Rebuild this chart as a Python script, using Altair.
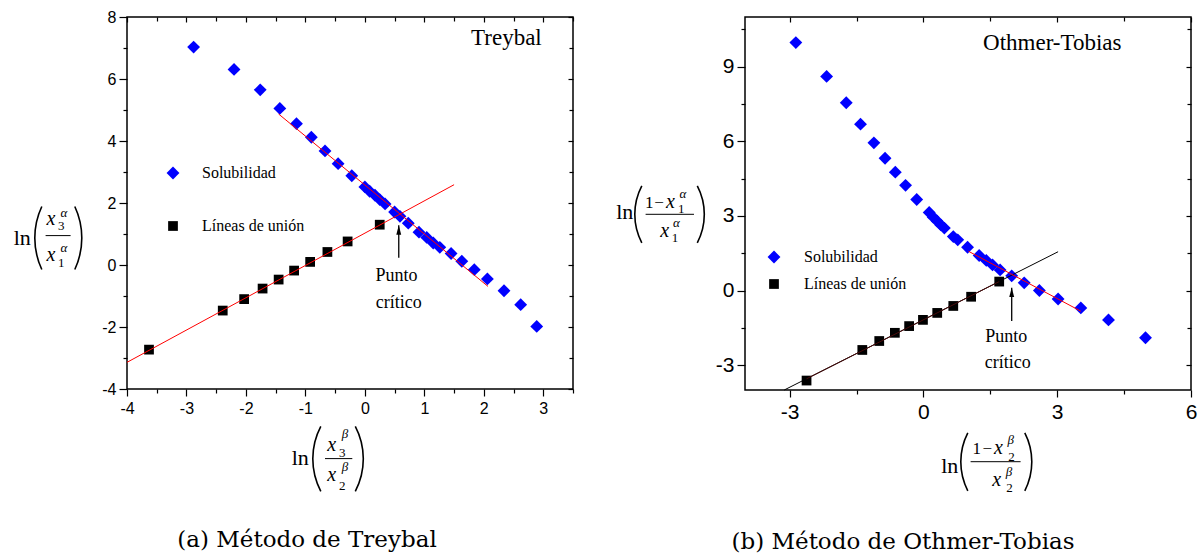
import math
import altair as alt
import pandas as pd

# ---------------- data ----------------
series_names = ["Solubilidad", "Líneas de unión"]
series_colors = ["#0000ff", "#000000"]
series_shapes = ["diamond", "square"]

# (a) Treybal
tr_sol_x = [-2.88, -2.20, -1.76, -1.43, -1.15, -0.90, -0.67, -0.45, -0.22, 0.00, 0.08, 0.17, 0.25, 0.34,
            0.50, 0.59, 0.73, 0.91, 1.04, 1.15, 1.26, 1.45, 1.63, 1.84, 2.06, 2.34, 2.62, 2.89]
tr_sol_y = [7.03, 6.31, 5.65, 5.05, 4.56, 4.12, 3.68, 3.27, 2.88, 2.52, 2.38, 2.25, 2.11, 1.97,
            1.71, 1.57, 1.35, 1.06, 0.89, 0.71, 0.57, 0.37, 0.12, -0.15, -0.45, -0.83, -1.28, -1.98]
tr_tie_x = [-3.63, -2.39, -2.03, -1.72, -1.45, -1.19, -0.92, -0.63, -0.29, 0.25]
tr_tie_y = [-2.73, -1.47, -1.10, -0.76, -0.47, -0.18, 0.10, 0.42, 0.76, 1.30]
tr_tiefit_x = [-4.0, 1.50]
tr_tiefit_y = [-3.14, 2.59]
tr_solfit_x = [-1.45, 2.07]
tr_solfit_y = [4.87, -0.69]
tr_arrow_x = [0.57]
tr_arrow_y = [0.23]
tr_arrow_tip = [1.28]
tr_label = ["Treybal"]
tr_label_x = [2.38]
tr_label_y = [7.33]
tr_note = ["Punto", "crítico"]
tr_note_x = [0.53, 0.57]
tr_note_y = [-0.36, -1.24]
tr_x_major = [-4, -3, -2, -1, 0, 1, 2, 3]
tr_x_minor = [-3.5, -2.5, -1.5, -0.5, 0.5, 1.5, 2.5, 3.5]
tr_y_major = [-4, -2, 0, 2, 4, 6, 8]
tr_y_minor = [-3, -1, 1, 3, 5, 7]

# (b) Othmer-Tobias
ot_sol_x = [-2.86, -2.17, -1.73, -1.41, -1.11, -0.86, -0.63, -0.40, -0.15, 0.13, 0.22, 0.31, 0.39, 0.47,
            0.67, 0.77, 0.99, 1.25, 1.41, 1.55, 1.72, 1.98, 2.26, 2.60, 3.02, 3.53, 4.15, 4.98]
ot_sol_y = [9.97, 8.61, 7.55, 6.69, 5.94, 5.32, 4.76, 4.23, 3.66, 3.14, 2.95, 2.79, 2.64, 2.51,
            2.17, 2.04, 1.74, 1.41, 1.21, 1.03, 0.83, 0.59, 0.31, 0.00, -0.34, -0.70, -1.18, -1.90]
ot_tie_x = [-2.62, -1.37, -0.99, -0.64, -0.32, -0.01, 0.31, 0.67, 1.07, 1.70]
ot_tie_y = [-3.62, -2.39, -2.03, -1.70, -1.43, -1.18, -0.90, -0.62, -0.25, 0.36]
ot_tiefit_x = [-3.12, 3.02]
ot_tiefit_y = [-4.00, 1.56]
ot_tiefit2_x = [-2.62, 1.70]
ot_tiefit2_y = [-3.55, 0.36]
ot_solfit_x = [1.01, 3.53]
ot_solfit_y = [1.58, -0.83]
ot_arrow_x = [1.98]
ot_arrow_y = [-1.23]
ot_arrow_tip = [0.11]
ot_label = ["Othmer-Tobias"]
ot_label_x = [2.89]
ot_label_y = [9.96]
ot_note = ["Punto", "crítico"]
ot_note_x = [1.86, 1.89]
ot_note_y = [-1.88, -2.92]
ot_x_major = [-3, 0, 3, 6]
ot_x_minor = [-1.5, 1.5, 4.5]
ot_y_major = [-3, 0, 3, 6, 9]
ot_y_minor = [-1.5, 1.5, 4.5, 7.5, 10.5]

captions = ["(a) Método de Treybal", "(b) Método de Othmer-Tobias"]


# ---------------- axis-title layout (math-like fractions) ----------------
def title_pieces(origin, pieces):
    ox, oy = origin
    return pd.DataFrame([{"t": t, "px": px - ox, "py": py - oy, "fs": fs, "it": it}
                         for t, px, py, fs, it in pieces])


def title_bars(origin, bars):
    ox, oy = origin
    return pd.DataFrame([{"x1": a - ox, "x2": b - ox, "yb": y - oy} for a, b, y in bars])


def title_parens(origin, parens, thick=1.6):
    """Thin tall parentheses drawn as circular arcs: (edge_x, centre_y, height, bulge, side)."""
    ox, oy = origin
    rows = []
    for ex, cy, h, w, side in parens:
        half = 2 * math.atan(2 * w / h)
        r = (h / 2) / math.sin(half)
        if side == "L":
            cx, mid = ex + r, 1.5 * math.pi
        else:
            cx, mid = ex - r, 0.5 * math.pi
        rows.append({"cx": cx - ox, "cy": cy - oy, "r": r + thick / 2, "ri": r - thick / 2,
                     "t1": mid - half, "t2": mid + half})
    return pd.DataFrame(rows)


tr_origin = (124.7, 15.7)
ot_origin = (742.7, 16.0)

tr_pieces = [
    ("ln", 20.0, 243.3, 22, 0),
    ("x", 48.7, 223.3, 20, 1), ("α", 61.5, 215.2, 13, 1), ("3", 59.0, 228.2, 13, 0),
    ("x", 48.7, 260.0, 20, 1), ("α", 61.5, 250.2, 13, 1), ("1", 59.0, 265.5, 13, 0),
    ("ln", 298.0, 463.3, 22, 0),
    ("x", 329.5, 450.0, 20, 1), ("β", 342.8, 437.0, 13, 1), ("3", 340.0, 455.5, 13, 0),
    ("x", 329.5, 480.0, 20, 1), ("β", 342.8, 470.0, 13, 1), ("2", 340.0, 488.8, 13, 0),
]
tr_bars = [(43.3, 68.3, 234.3), (322.7, 350.0, 457.3)]
tr_parens = [(32.5, 236.7, 63, 7, "L"), (79.5, 236.7, 63, 7, "R"),
             (310.5, 457.5, 65, 8, "L"), (361.0, 457.5, 65, 8, "R")]

ot_pieces = [
    ("ln", 622.5, 218.3, 22, 0),
    ("1", 647.0, 206.7, 17, 0), ("−", 656.8, 206.7, 17, 0),
    ("x", 668.2, 206.7, 20, 1), ("α", 680.5, 196.7, 13, 1), ("1", 679.0, 212.0, 13, 0),
    ("x", 662.3, 235.7, 20, 1), ("α", 674.0, 225.7, 13, 1), ("1", 672.8, 240.5, 13, 0),
    ("ln", 947.5, 471.7, 22, 0),
    ("1", 974.5, 453.3, 17, 0), ("−", 985.0, 453.3, 17, 0),
    ("x", 996.2, 453.3, 20, 1), ("β", 1008.5, 443.0, 13, 1), ("2", 1009.2, 459.5, 13, 0),
    ("x", 994.5, 485.0, 20, 1), ("β", 1006.8, 475.0, 13, 1), ("2", 1007.2, 490.5, 13, 0),
]
ot_bars = [(643.3, 691.7, 213.3), (968.3, 1018.3, 460.7)]
ot_parens = [(632.5, 213.3, 57, 7, "L"), (702.0, 213.3, 57, 7, "R"),
             (958.5, 460.8, 58, 7, "L"), (1029.5, 460.8, 58, 7, "R")]


def make_axis(values, minor_test, orient, offset=None, labels=True, fs=16, pad=4, major=7, minor=4):
    kw = dict(values=values, orient=orient, title=None, domain=False, grid=False,
              ticks=True, tickColor="black", tickWidth=1.2,
              tickSize={"condition": {"test": minor_test, "value": minor}, "value": major},
              labels=labels)
    if offset is not None:
        kw["offset"] = offset
    if labels:
        kw.update(labelExpr=f"({minor_test}) ? '' : '' + datum.value",
                  labelFont="Liberation Sans", labelFontSize=fs, labelColor="black",
                  labelPadding=pad, labelFlush=False, labelOverlap=False)
    return alt.Axis(**kw)


def panel(sol_x, sol_y, tie_x, tie_y, fits, arrow, label, notes, xdom, ydom,
          xmaj, xmin, ymaj, ymin, xtest, ytest, W, H, tick_fs, leg_x, leg_y, leg_row,
          leg_off, pieces, bars, parens, caption, cap_dx, cap_off):
    xs = alt.Scale(domain=xdom, nice=False, zero=False)
    ys = alt.Scale(domain=ydom, nice=False, zero=False)
    xv = sorted(xmaj + xmin)
    yv = sorted(ymaj + ymin)

    pts = pd.DataFrame({
        "x": sol_x + tie_x, "y": sol_y + tie_y,
        "serie": [series_names[0]] * len(sol_x) + [series_names[1]] * len(tie_x),
    })
    leg = alt.Legend(orient="none", legendX=leg_x, legendY=leg_y, title=None, padding=0,
                     labelFont="Liberation Serif", labelFontSize=16, labelColor="black",
                     labelOffset=leg_off, rowPadding=leg_row, symbolStrokeWidth=0)
    layer_pts = alt.Chart(pts).mark_point(filled=True, opacity=1).encode(
        x=alt.X("x:Q", scale=xs, axis=make_axis(xv, xtest, "bottom", fs=tick_fs, pad=4)),
        y=alt.Y("y:Q", scale=ys, axis=make_axis(yv, ytest, "left", fs=tick_fs, pad=3, major=8)),
        color=alt.Color("serie:N", scale=alt.Scale(domain=series_names, range=series_colors), legend=leg),
        shape=alt.Shape("serie:N", scale=alt.Scale(domain=series_names, range=series_shapes), legend=leg),
        size=alt.Size("serie:N", scale=alt.Scale(domain=series_names, range=[165, 95]), legend=leg),
    )

    layers = [layer_pts]
    for i, (fx, fy, col) in enumerate(fits):
        d = pd.DataFrame({"x": fx, "y": fy})
        if i == 0:
            xa = make_axis(xv, xtest, "bottom", offset=-H, labels=False, major=5, minor=4)
            ya = make_axis(yv, ytest, "left", offset=-W, labels=False, major=5, minor=4)
        else:
            xa = None
            ya = None
        layers.append(alt.Chart(d).mark_line(color=col, strokeWidth=1).encode(
            x=alt.X("x:Q", scale=xs, axis=xa), y=alt.Y("y:Q", scale=ys, axis=ya)))

    ax, ay, atip = arrow
    ad = pd.DataFrame({"x": ax, "y": ay, "tip": atip})
    layers.append(alt.Chart(ad).mark_rule(color="black", strokeWidth=1.3).encode(
        x=alt.X("x:Q", scale=xs, axis=None), y=alt.Y("y:Q", scale=ys, axis=None), y2="tip:Q"))
    layers.append(alt.Chart(ad).mark_point(
        shape="M0,0L-0.45,1.7L0.45,1.7Z", filled=True, color="black", opacity=1, size=120,
        strokeWidth=0).encode(
        x=alt.X("x:Q", scale=xs, axis=None), y=alt.Y("tip:Q", scale=ys, axis=None)))

    lt, lx, ly = label
    layers.append(alt.Chart(pd.DataFrame({"t": lt, "x": lx, "y": ly})).mark_text(
        font="Liberation Serif", fontSize=23, color="black", align="center", baseline="middle").encode(
        x=alt.X("x:Q", scale=xs, axis=None), y=alt.Y("y:Q", scale=ys, axis=None), text="t:N"))
    nt, nx, ny = notes
    layers.append(alt.Chart(pd.DataFrame({"t": nt, "x": nx, "y": ny})).mark_text(
        font="Liberation Serif", fontSize=18, color="black", align="center", baseline="middle").encode(
        x=alt.X("x:Q", scale=xs, axis=None), y=alt.Y("y:Q", scale=ys, axis=None), text="t:N"))

    pdf = pieces
    for it in (0, 1):
        layers.append(alt.Chart(pdf[pdf["it"] == it]).mark_text(
            font="Liberation Serif", fontStyle="italic" if it else "normal", color="black",
            align="center", baseline="alphabetic").encode(
            x=alt.X("px:Q", scale=None, axis=None), y=alt.Y("py:Q", scale=None, axis=None),
            size=alt.Size("fs:Q", scale=None, legend=None), text="t:N"))
    layers.append(alt.Chart(bars).mark_rule(color="black", strokeWidth=1).encode(
        x=alt.X("x1:Q", scale=None, axis=None), x2="x2:Q", y=alt.Y("yb:Q", scale=None, axis=None)))
    layers.append(alt.Chart(parens).mark_arc(color="black", strokeWidth=0).encode(
        x=alt.X("cx:Q", scale=None, axis=None), y=alt.Y("cy:Q", scale=None, axis=None),
        theta=alt.Theta("t1:Q", scale=None, stack=None), theta2="t2:Q",
        radius=alt.Radius("r:Q", scale=None), radius2="ri:Q"))

    return alt.layer(*layers).resolve_axis(x="independent", y="independent").properties(
        width=W, height=H,
        title=alt.TitleParams(caption, orient="bottom", anchor="middle", frame="group",
                              font="DejaVu Serif", fontSize=23, fontWeight="normal",
                              color="black", dx=cap_dx, offset=cap_off))


left = panel(tr_sol_x, tr_sol_y, tr_tie_x, tr_tie_y,
             [(tr_tiefit_x, tr_tiefit_y, "#ff0000"), (tr_solfit_x, tr_solfit_y, "#ff0000")],
             (tr_arrow_x, tr_arrow_y, tr_arrow_tip), (tr_label, tr_label_x, tr_label_y),
             (tr_note, tr_note_x, tr_note_y), [-4, 3.5], [-4, 8],
             tr_x_major, tr_x_minor, tr_y_major, tr_y_minor,
             "datum.value % 1 != 0", "datum.value % 2 != 0",
             446, 372, 16, 38, 148, 37, 21,
             title_pieces(tr_origin, tr_pieces), title_bars(tr_origin, tr_bars),
             title_parens(tr_origin, tr_parens),
             captions[0], -43, 36)

right = panel(ot_sol_x, ot_sol_y, ot_tie_x, ot_tie_y,
              [(ot_tiefit_x, ot_tiefit_y, "#000000"), (ot_tiefit2_x, ot_tiefit2_y, "#4a0a0a"),
               (ot_solfit_x, ot_solfit_y, "#ff0000")],
              (ot_arrow_x, ot_arrow_y, ot_arrow_tip), (ot_label, ot_label_x, ot_label_y),
              (ot_note, ot_note_x, ot_note_y), [-4, 6], [-4, 11],
              ot_x_major, ot_x_minor, ot_y_major, ot_y_minor,
              "datum.value % 3 != 0", "datum.value % 3 != 0",
              446, 373, 21, 21, 232, 11, 22,
              title_pieces(ot_origin, ot_pieces), title_bars(ot_origin, ot_bars),
              title_parens(ot_origin, ot_parens),
              captions[1], -65, 36)

chart = alt.hconcat(left, right, spacing=172, bounds="flush", background="white",
                    padding={"left": 12, "top": 8, "right": 0, "bottom": 0}).resolve_scale(
    x="independent", y="independent", color="independent", shape="independent", size="independent"
).resolve_legend(color="independent", shape="independent", size="independent").configure_view(
    stroke="black", strokeWidth=1.5)

chart.save("out.html", embed_options={"renderer": "svg", "actions": False})
